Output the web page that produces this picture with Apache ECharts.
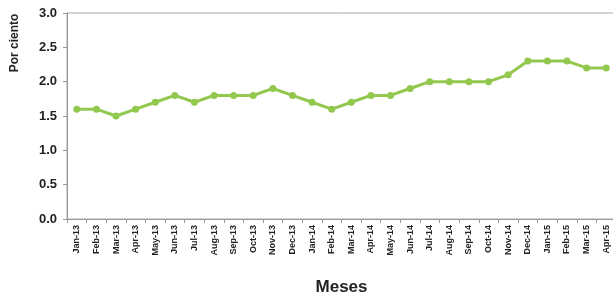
<!DOCTYPE html>
<html>
<head>
<meta charset="utf-8">
<script src="https://cdn.jsdelivr.net/npm/echarts@6/dist/echarts.min.js"></script>
<style>
html,body{margin:0;padding:0;background:#fff;}
#chart{width:613px;height:292px;}
</style>
</head>
<body>
<div id="chart"></div>
<script>
var meses = ['Jan-13','Feb-13','Mar-13','Apr-13','May-13','Jun-13','Jul-13','Aug-13','Sep-13','Oct-13','Nov-13','Dec-13',
  'Jan-14','Feb-14','Mar-14','Apr-14','May-14','Jun-14','Jul-14','Aug-14','Sep-14','Oct-14','Nov-14','Dec-14',
  'Jan-15','Feb-15','Mar-15','Apr-15'];
var porCiento = [1.6,1.6,1.5,1.6,1.7,1.8,1.7,1.8,1.8,1.8,1.9,1.8,
  1.7,1.6,1.7,1.8,1.8,1.9,2.0,2.0,2.0,2.0,2.1,2.3,
  2.3,2.3,2.2,2.2];

var chart = echarts.init(document.getElementById('chart'));
var option = {
  animation: false,
  textStyle: { fontFamily: 'Liberation Sans, Arial, sans-serif' },
  grid: {
    left: 67, right: -3, top: 13, bottom: 73,
    outerBoundsMode: 'none',
    containLabel: false,
    show: true, borderColor: '#aaa', borderWidth: 1
  },
  graphic: [{
    type: 'text',
    x: 15, y: 43,
    rotation: Math.PI / 2,
    style: {
      text: 'Por ciento',
      font: 'bold 12px Liberation Sans, Arial, sans-serif',
      fill: '#222',
      align: 'center',
      verticalAlign: 'middle'
    }
  }],
  xAxis: {
    type: 'category',
    data: meses,
    boundaryGap: true,
    name: 'Meses',
    nameLocation: 'middle',
    nameGap: 60,
    nameMoveOverlap: false,
    nameTextStyle: { fontWeight: 'bold', fontSize: 17, color: '#222' },
    axisLine: { lineStyle: { color: '#999' } },
    axisTick: { show: true, length: 4, lineStyle: { color: '#999' } },
    axisLabel: {
      rotate: 90, interval: 0, fontSize: 9, fontWeight: 'bold', color: '#222', margin: 6
    }
  },
  yAxis: {
    type: 'value',
    min: 0, max: 3, interval: 0.5,
    axisLine: { show: true, lineStyle: { color: '#999' } },
    axisTick: { show: true, length: 4, lineStyle: { color: '#999' } },
    splitLine: { show: false },
    axisLabel: {
      fontSize: 13, fontWeight: 'bold', color: '#222', margin: 10,
      formatter: function (v) { return v.toFixed(1); }
    }
  },
  series: [{
    type: 'line',
    data: porCiento,
    symbol: 'circle',
    symbolSize: 7,
    lineStyle: { color: '#92c84e', width: 3 },
    itemStyle: { color: '#92c84e' }
  }]
};
chart.setOption(option);
</script>
</body>
</html>
